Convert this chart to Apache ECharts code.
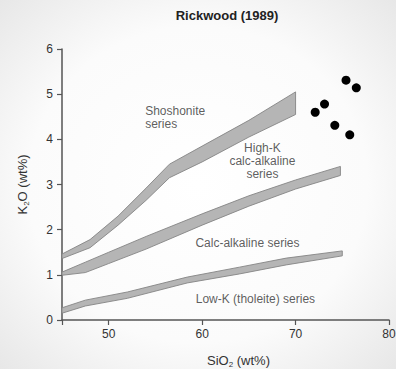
<!DOCTYPE html>
<html>
<head>
<meta charset="utf-8">
<script src="https://cdn.jsdelivr.net/npm/echarts@6/dist/echarts.min.js"></script>
<style>
  html, body { margin: 0; padding: 0; }
  #chart { width: 396px; height: 369px; }
</style>
</head>
<body>
<div id="chart"></div>
<script>
// SiO2 vs K2O classification bands (Rickwood, 1989)
const shoSiO2  = [45, 48, 51, 54, 56.5, 60, 65, 70];
const shoLower = [1.36, 1.60, 2.10, 2.65, 3.15, 3.50, 4.05, 4.55];
const shoUpper = [1.46, 1.78, 2.30, 2.92, 3.45, 3.85, 4.42, 5.05];

const hkSiO2  = [45, 47.5, 50, 54, 60, 65, 70, 74.8];
const hkLower = [0.99, 1.05, 1.25, 1.57, 2.10, 2.52, 2.90, 3.20];
const hkUpper = [1.06, 1.28, 1.50, 1.85, 2.35, 2.75, 3.10, 3.40];

const lkSiO2  = [45, 47.5, 52, 58.4, 64, 69, 75];
const lkLower = [0.15, 0.31, 0.48, 0.82, 1.02, 1.22, 1.42];
const lkUpper = [0.27, 0.44, 0.62, 0.95, 1.17, 1.37, 1.53];

// Sample analyses
const sampleSiO2 = [75.4, 76.5, 73.1, 72.1, 74.2, 75.8];
const sampleK2O  = [5.31, 5.14, 4.78, 4.60, 4.31, 4.10];

// Field names and where they sit in data space
const fieldNames = ['Shoshonite\nseries', 'High-K\ncalc-alkaline\nseries', 'Calc-alkaline series', 'Low-K (tholeite) series'];
const fieldSiO2  = [53.9, 66.45, 64.85, 65.7];
const fieldK2O   = [4.49, 3.52, 1.70, 0.47];
const fieldAlign = ['left', 'center', 'center', 'center'];

const xTicks = [45, 50, 60, 70, 80];
const xTickLabels = [50, 60, 70, 80];

// Filled band between a lower and an upper boundary, drawn as one polygon
function bandSeries(xs, lo, hi) {
  const rows = xs.map((x, i) => [x, lo[i], hi[i]]);
  return {
    type: 'custom',
    silent: true,
    data: rows,
    encode: { x: 0, y: [1, 2] },
    renderItem: function (params, api) {
      if (params.dataIndex !== 0) return null;
      const top = rows.map(d => api.coord([d[0], d[2]]));
      const bottom = rows.map(d => api.coord([d[0], d[1]])).reverse();
      return {
        type: 'polygon',
        shape: { points: top.concat(bottom) },
        style: { fill: '#b5b5b5', stroke: '#858585', lineWidth: 0.9, lineJoin: 'round' }
      };
    },
    z: 2
  };
}

const font = 'Liberation Sans, Arial, sans-serif';
const nameRich = {
  a: { fontFamily: font, fontSize: 13, color: '#333', lineHeight: 16 },
  s: { fontFamily: font, fontSize: 8, color: '#333', lineHeight: 9, verticalAlign: 'bottom' }
};

const chart = echarts.init(document.getElementById('chart'), null, { renderer: 'svg' });

chart.setOption({
  animation: false,
  backgroundColor: {
    type: 'radial', x: 0.5, y: 0.5, r: 0.78,
    colorStops: [
      { offset: 0, color: '#ffffff' },
      { offset: 0.55, color: '#fbfbfb' },
      { offset: 1, color: '#e2e2e2' }
    ]
  },
  title: {
    text: 'Rickwood (1989)',
    left: 222, top: 4,
    textAlign: 'center',
    textStyle: { fontFamily: font, fontSize: 13, fontWeight: 'bold', color: '#222' }
  },
  grid: { left: 62, right: 7, top: 49, bottom: 49, outerBoundsMode: 'none' },
  xAxis: {
    type: 'value', min: 45, max: 80,
    name: '{a|SiO}{s|2}{a| (wt%)}',
    nameLocation: 'middle', nameGap: 32,
    nameTextStyle: { rich: nameRich, padding: [0, 0, 0, 26] },
    axisLine: { show: true, lineStyle: { color: '#555', width: 1.5 } },
    axisTick: { show: true, length: 5, lineStyle: { color: '#555', width: 1.2 }, customValues: xTicks },
    axisLabel: { fontFamily: font, fontSize: 12, color: '#333', margin: 8, customValues: xTickLabels },
    splitLine: { show: false }
  },
  yAxis: {
    type: 'value', min: 0, max: 6, interval: 1,
    name: '{a|K}{s|2}{a|O (wt%)}',
    nameLocation: 'middle', nameGap: 32,
    nameTextStyle: { rich: nameRich },
    axisLine: { show: true, lineStyle: { color: '#555', width: 1.5 } },
    axisTick: { show: true, length: 5, lineStyle: { color: '#555', width: 1.2 } },
    axisLabel: { fontFamily: font, fontSize: 12, color: '#333', margin: 9 },
    splitLine: { show: false }
  },
  series: [
    bandSeries(shoSiO2, shoLower, shoUpper),
    bandSeries(hkSiO2, hkLower, hkUpper),
    bandSeries(lkSiO2, lkLower, lkUpper),
    {
      type: 'scatter',
      data: sampleSiO2.map((x, i) => [x, sampleK2O[i]]),
      symbol: 'circle',
      symbolSize: 9,
      itemStyle: { color: '#000', opacity: 1 },
      z: 5
    },
    {
      type: 'scatter',
      silent: true,
      symbolSize: 0,
      data: fieldSiO2.map((x, i) => ({
        value: [x, fieldK2O[i]],
        name: fieldNames[i],
        label: { align: fieldAlign[i] }
      })),
      label: {
        show: true,
        position: 'inside',
        formatter: p => p.name,
        fontFamily: font, fontSize: 12, color: '#333', lineHeight: 13,
        verticalAlign: 'middle'
      },
      z: 4
    }
  ]
});
</script>
</body>
</html>
